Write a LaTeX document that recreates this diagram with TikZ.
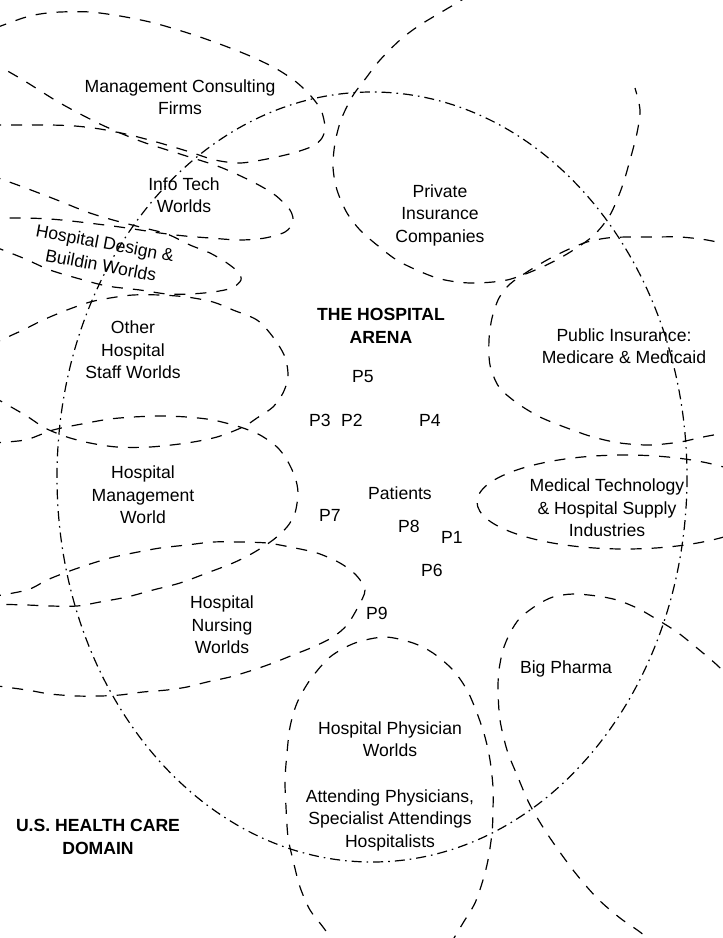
\documentclass[tikz,border=0pt]{standalone}
\usepackage{fontspec}
\setmainfont{Liberation Sans}
\begin{document}
\begin{tikzpicture}[x=1pt,y=-1pt,
  world/.style={line width=1.2pt, dash pattern=on 11pt off 10pt},
  arenaline/.style={line width=1.2pt, dash pattern=on 10pt off 5pt on 1.6pt off 5pt},
  lbl/.style={font=\fontsize{17.6}{22.5}\selectfont, align=center, inner sep=0pt},
  blbl/.style={font=\bfseries\fontsize{17.6}{22.5}\selectfont, align=center, inner sep=0pt}]
\fill[white] (0,0) rectangle (723,938);
\useasboundingbox (0,0) rectangle (723,938);
\begin{scope}
\clip (0,0) rectangle (723,938);
% Hospital arena
\draw[arenaline] (372,477) ellipse [x radius=315, y radius=385];
% Management consulting
\draw[world] plot[smooth] coordinates {(-10,125) (23,125) (50,125) (75,126) (100,129) (130,135) (160,143) (190,152) (215,160) (240,163) (267,159) (293,153) (313,146) (322,138) (325,127) (321,110) (310,95) (295,81) (275,68) (250,56) (225,46) (200,37) (175,29) (150,22) (120,16) (90,12) (60,12) (40,14) (23,18) (-10,30)};
% Info tech
\draw[world] plot[smooth] coordinates {(-10,61) (23,80) (60,103) (100,124) (140,141) (180,154) (220,167) (253,182) (275,195) (290,210) (293,222) (285,232) (265,238) (240,240) (210,238) (185,236) (160,233) (120,227) (80,222) (50,219) (23,218) (-10,218)};
% Hospital design
\draw[world] plot[smooth] coordinates {(-10,175) (23,187) (57,200) (87,212) (113,220) (140,227) (167,234) (190,245) (210,253) (227,263) (238,272) (241,280) (232,288) (213,292) (190,294) (167,294) (140,290) (107,286) (80,279) (50,270) (23,258) (-10,245)};
% Other staff
\draw[world] plot[smooth] coordinates {(-10,345) (23,330) (43,320) (67,310) (90,302) (110,298) (133,295) (160,295) (187,297) (213,302) (233,310) (257,320) (273,337) (285,357) (288,377) (283,393) (273,407) (257,418) (243,427) (217,437) (187,443) (150,447) (117,447) (90,443) (67,437) (45,428) (25,415) (-10,395)};
% Hospital management
\draw[world] plot[smooth] coordinates {(-10,443) (25,440) (53,430) (87,423) (110,419) (133,417) (160,416) (187,417) (213,420) (240,427) (260,435) (277,447) (287,460) (295,477) (298,493) (295,513) (287,527) (273,540) (253,553) (233,563) (207,573) (180,583) (153,590) (127,597) (100,602) (77,606) (50,606) (27,605) (-10,604)};
% Nursing
\draw[world] plot[smooth] coordinates {(-10,597) (27,590) (47,580) (67,572) (87,565) (110,558) (133,553) (160,548) (187,545) (213,542) (240,542) (267,543) (290,547) (317,553) (340,563) (356,575) (365,590) (358,607) (347,625) (333,637) (313,647) (293,655) (273,663) (253,670) (230,677) (207,682) (187,687) (167,690) (143,692) (120,695) (100,696) (77,696) (50,694) (27,690) (-10,685)};
% Private insurance
\draw[world] plot[smooth] coordinates {(470,-5) (450,7) (420,25) (400,40) (380,60) (366,78) (352,97) (341,120) (335,143) (333,167) (337,190) (347,213) (360,230) (377,245) (400,262) (437,278) (470,283) (507,280) (540,268) (567,254) (593,236) (610,215) (622,187) (630,160) (637,133) (640,110) (635,88)};
% Public insurance
\draw[world] plot[smooth] coordinates {(735,246) (707,240) (680,237) (653,237) (627,237) (607,238) (587,242) (567,250) (547,260) (527,272) (510,284) (499,298) (492,318) (489,340) (490,365) (499,387) (517,403) (540,417) (567,428) (593,437) (620,443) (650,445) (680,442) (703,437) (735,431)};
% Medical technology
\draw[world] (625,502) ellipse [x radius=148, y radius=47];
% Big pharma
\draw[world] plot[smooth] coordinates {(735,683) (717,665) (697,648) (677,632) (653,617) (637,608) (617,600) (597,596) (573,594) (553,597) (537,605) (520,618) (510,633) (503,650) (499,670) (498,690) (500,720) (507,750) (517,775) (530,805) (548,835) (573,870) (597,898) (620,918) (640,932) (655,945)};
% Physician
\draw[world] plot[smooth] coordinates {(338,948) (323,927) (310,910) (300,887) (293,860) (288,837) (286,807) (285,780) (287,753) (290,727) (297,703) (310,680) (330,657) (355,643) (385,637) (413,643) (433,653) (453,670) (467,690) (477,713) (485,737) (490,760) (493,787) (493,810) (492,833) (488,860) (483,880) (475,903) (463,923) (448,948)};
\end{scope}
% labels
\node[lbl] (mgmtc) at (180,97) {\fontsize{17.6}{21}\selectfont Management Consulting\\Firms};
\node[lbl] (info) at (184,195) {Info Tech\\Worlds};
\node[lbl, rotate=-10.5] (hd) at (103,254) {Hospital Design \&\\Buildin Worlds};
\node[lbl] (priv) at (440,215) {Private\\Insurance\\Companies};
\node[blbl] (arena) at (381,326) {THE HOSPITAL\\ARENA};
\node[lbl] (pub) at (624,346) {Public Insurance:\\Medicare \& Medicaid};
\node[lbl] (other) at (133,350) {Other\\Hospital\\Staff Worlds};
\node[lbl] (mgmt) at (143,495) {Hospital\\Management\\World};
\node[lbl] (medt) at (607,508) {Medical Technology\\\& Hospital Supply\\Industries};
\node[lbl] (nurs) at (222,625) {Hospital\\Nursing\\Worlds};
\node[lbl] (pharma) at (566,669) {Big Pharma};
\node[lbl] (phys) at (390,739) {Hospital Physician\\Worlds};
\node[lbl] (attend) at (390,820) {Attending Physicians,\\Specialist Attendings\\Hospitalists};
\node[blbl] (us) at (98,837) {U.S. HEALTH CARE\\DOMAIN};
\node[lbl] (p5) at (363,377) {P5};
\node[lbl] (p3) at (320,420) {P3};
\node[lbl] (p2) at (352,420) {P2};
\node[lbl] (p4) at (430,420) {P4};
\node[lbl] (pat) at (400,493) {Patients};
\node[lbl] (p7) at (330,515) {P7};
\node[lbl] (p8) at (409,526) {P8};
\node[lbl] (p1) at (452,537) {P1};
\node[lbl] (p6) at (432,570) {P6};
\node[lbl] (p9) at (377,613) {P9};
\end{tikzpicture}
\end{document}
